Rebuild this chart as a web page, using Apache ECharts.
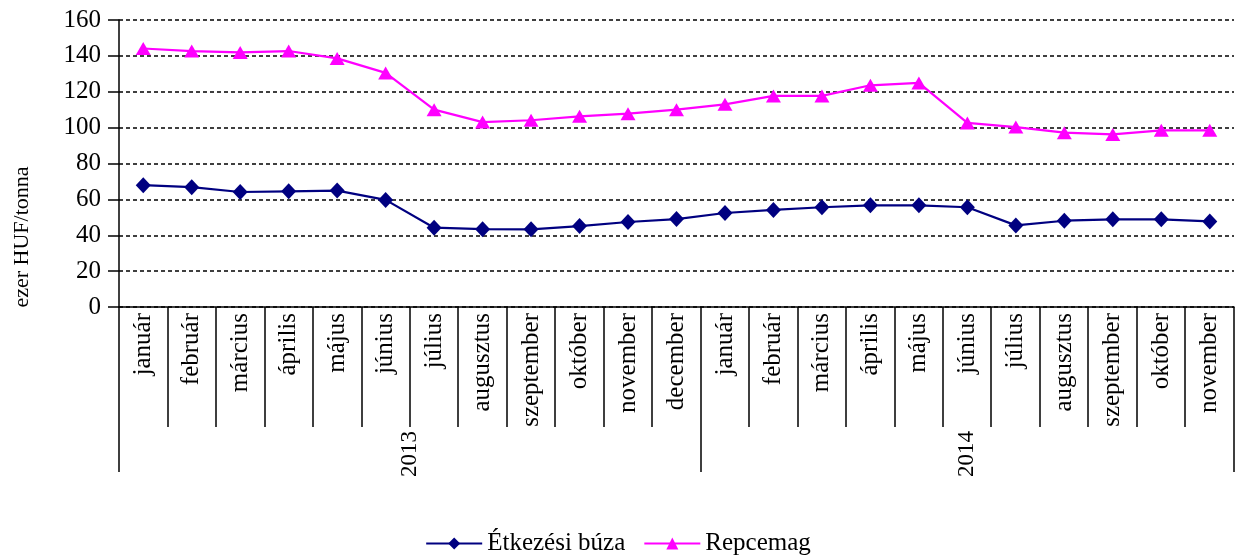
<!DOCTYPE html>
<html>
<head>
<meta charset="utf-8">
<script src="https://cdn.jsdelivr.net/npm/echarts@6/dist/echarts.min.js"></script>
<style>
  html, body { margin: 0; padding: 0; background: #fff; }
  #chart { width: 1236px; height: 555px; }
</style>
</head>
<body>
<div id="chart"></div>
<script>
// Monthly prices, thousand HUF per tonne
const months = [
  'január', 'február', 'március', 'április', 'május', 'június',
  'július', 'augusztus', 'szeptember', 'október', 'november', 'december',
  'január', 'február', 'március', 'április', 'május', 'június',
  'július', 'augusztus', 'szeptember', 'október', 'november'
];
const years = ['2013', '2014'];
const monthsPerYear = [12, 11];

const buza = [
  67.9, 66.8, 64.1, 64.5, 64.9, 59.7, 44.2, 43.4, 43.3, 45.1, 47.4, 49.0,
  52.4, 54.1, 55.6, 56.7, 56.7, 55.6, 45.5, 48.1, 48.9, 48.9, 47.7
];
const repce = [
  144.1, 142.7, 141.9, 142.7, 138.6, 130.5, 110.0, 103.1, 104.1, 106.3, 107.8, 110.0,
  113.0, 117.7, 117.7, 123.6, 124.9, 102.6, 100.3, 97.2, 96.2, 98.5, 98.5
];

const yTicks = { min: 0, max: 160, step: 20 };
const yName = 'ezer HUF/tonna';

// Band boundaries (in month units) for the month and year rows
const monthBounds = months.map((_, i) => i).concat([months.length]);
const yearBounds = [0];
monthsPerYear.forEach(n => yearBounds.push(yearBounds[yearBounds.length - 1] + n));
const yearCenters = years.map((_, i) => (yearBounds[i] + yearBounds[i + 1]) / 2);

const FONT = '"Liberation Serif", "Times New Roman", serif';
const chart = echarts.init(document.getElementById('chart'));

// Separator axes span the same width as the month axis; a hair of slack
// at the end keeps the closing boundary tick inside the extent.
const sepMax = months.length + 0.01;

chart.setOption({
  animation: false,
  textStyle: { fontFamily: FONT, color: '#000' },
  grid: { left: 119, right: 2, top: 20, bottom: 248, containLabel: false },
  legend: {
    bottom: -1,
    left: 'center',
    padding: [0, 0, 0, 0],
    itemWidth: 56,
    itemHeight: 15,
    itemGap: 18,
    textStyle: { fontFamily: FONT, fontSize: 25, color: '#000' },
    data: ['Étkezési búza', 'Repcemag']
  },
  graphic: [{
    type: 'text',
    x: 22,
    y: 237,
    rotation: Math.PI / 2,
    style: {
      text: yName,
      fontFamily: FONT,
      fontSize: 22,
      fill: '#000',
      align: 'center',
      verticalAlign: 'middle'
    }
  }],
  xAxis: [
    {
      type: 'category',
      data: months,
      boundaryGap: true,
      axisLine: { show: true, lineStyle: { color: '#000', width: 1.5 } },
      axisTick: { show: false },
      axisLabel: {
        interval: 0, rotate: 90, margin: 6,
        fontFamily: FONT, fontSize: 25, color: '#000'
      },
      splitLine: { show: false }
    },
    {
      // month separators
      type: 'value',
      position: 'bottom',
      min: 0,
      max: sepMax,
      axisLine: { show: false },
      splitLine: { show: false },
      axisTick: {
        show: true,
        customValues: monthBounds,
        length: 120,
        lineStyle: { color: '#000', width: 1.5 }
      },
      axisLabel: { show: false }
    },
    {
      // year row
      type: 'value',
      position: 'bottom',
      min: 0,
      max: sepMax,
      axisLine: { show: false },
      splitLine: { show: false },
      axisTick: {
        show: true,
        customValues: yearBounds,
        length: 165,
        lineStyle: { color: '#000', width: 1.5 }
      },
      axisLabel: {
        customValues: yearCenters,
        rotate: 90,
        margin: 124,
        fontFamily: FONT, fontSize: 23, color: '#000',
        formatter: v => {
          const i = yearCenters.indexOf(v);
          return i >= 0 ? years[i] : '';
        }
      }
    }
  ],
  yAxis: {
    type: 'value',
    min: yTicks.min,
    max: yTicks.max,
    interval: yTicks.step,
    axisLine: { show: true, lineStyle: { color: '#000', width: 1.5 } },
    axisTick: { show: true, length: 11, lineStyle: { color: '#000', width: 1.5 } },
    axisLabel: { margin: 18, fontFamily: FONT, fontSize: 25, color: '#000' },
    splitLine: { show: true, lineStyle: { color: '#000', type: [4, 3], width: 1.5 } }
  },
  series: [
    {
      name: 'Étkezési búza',
      type: 'line',
      data: buza,
      symbol: 'diamond',
      symbolSize: [15, 16],
      lineStyle: { color: '#000080', width: 2.2 },
      itemStyle: { color: '#000080' }
    },
    {
      name: 'Repcemag',
      type: 'line',
      data: repce,
      symbol: 'triangle',
      symbolSize: [15, 13],
      lineStyle: { color: '#FF00FF', width: 2.2 },
      itemStyle: { color: '#FF00FF' }
    }
  ]
});
</script>
</body>
</html>
